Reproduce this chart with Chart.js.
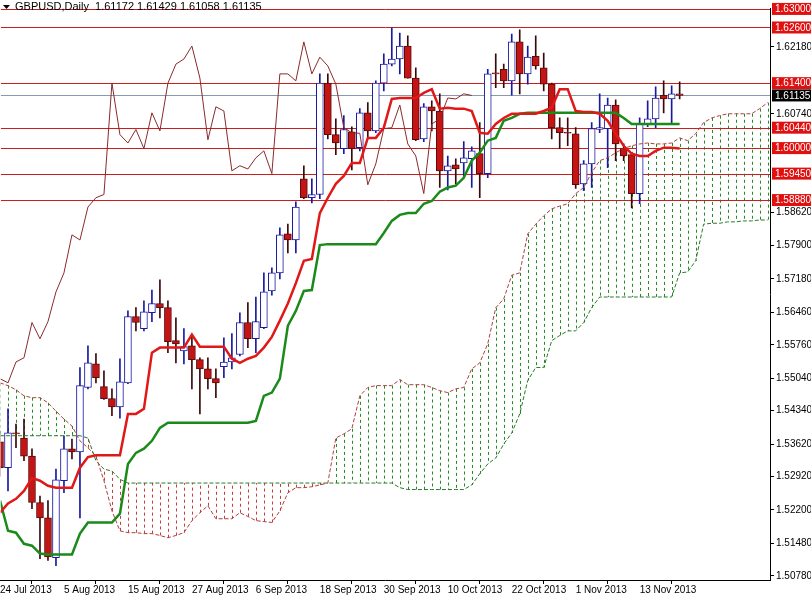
<!DOCTYPE html>
<html><head><meta charset="utf-8">
<script src="https://cdn.jsdelivr.net/npm/chart.js@4.4.1/dist/chart.umd.min.js"></script>
<style>html,body{margin:0;padding:0;background:#fff}#w{width:811px;height:596px}</style>
</head><body><div id="w"><canvas id="c"></canvas></div>
<script>
const openP=[1.5367,1.5311,1.5386,1.5375,1.5336,1.5236,1.5203,1.5117,1.5283,1.5352,1.5345,1.5484,1.5535,1.5486,1.5460,1.5442,1.5494,1.5637,1.5611,1.5645,1.5665,1.5656,1.5585,1.5563,1.5574,1.5544,1.5524,1.5503,1.5529,1.5539,1.5555,1.5624,1.5589,1.5613,1.5692,1.5731,1.5815,1.5802,1.5934,1.5893,1.5900,1.6140,1.6029,1.5999,1.6035,1.6001,1.6076,1.6037,1.6140,1.6181,1.6192,1.6220,1.6151,1.6020,1.6089,1.6080,1.5951,1.5964,1.5968,1.5977,1.5988,1.5945,1.6162,1.6170,1.6145,1.6229,1.6160,1.6198,1.6173,1.6138,1.6044,1.6034,1.6031,1.5923,1.5966,1.6040,1.6042,1.6093,1.5999,1.5986,1.5902,1.6052,1.6063,1.6114,1.6106,1.61172];
const highP=[1.5390,1.5438,1.5405,1.5416,1.5352,1.5250,1.5240,1.5308,1.5380,1.5373,1.5527,1.5574,1.5557,1.5520,1.5481,1.5546,1.5649,1.5656,1.5671,1.5694,1.5716,1.5671,1.5634,1.5611,1.5596,1.5548,1.5548,1.5524,1.5591,1.5600,1.5645,1.5667,1.5679,1.5731,1.5742,1.5828,1.5836,1.5884,1.5962,1.5934,1.6160,1.6160,1.6063,1.6070,1.6046,1.6085,1.6098,1.6145,1.6203,1.6259,1.6248,1.6242,1.6173,1.6096,1.6102,1.6117,1.5983,1.5977,1.6014,1.6003,1.6055,1.6170,1.6203,1.6181,1.6246,1.6255,1.6220,1.6242,1.6205,1.6140,1.6065,1.6065,1.6044,1.5973,1.6055,1.6117,1.6108,1.6104,1.6009,1.5988,1.6065,1.6102,1.6132,1.6145,1.6134,1.61429];
const lowP=[1.5293,1.5261,1.5354,1.5326,1.5223,1.5115,1.5111,1.5100,1.5257,1.5330,1.5203,1.5481,1.5494,1.5458,1.5423,1.5418,1.5492,1.5606,1.5606,1.5626,1.5634,1.5559,1.5537,1.5535,1.5481,1.5427,1.5481,1.5462,1.5505,1.5524,1.5552,1.5570,1.5559,1.5611,1.5683,1.5718,1.5774,1.5774,1.5891,1.5882,1.5891,1.6020,1.5986,1.5988,1.5953,1.5994,1.6022,1.6033,1.6123,1.6177,1.6160,1.6151,1.6016,1.6014,1.6037,1.5915,1.5910,1.5923,1.5936,1.5915,1.5893,1.5936,1.6130,1.6130,1.6114,1.6117,1.6138,1.6170,1.6123,1.6020,1.5999,1.6005,1.5913,1.5908,1.5915,1.6033,1.5958,1.5973,1.5973,1.5871,1.5880,1.6046,1.6044,1.6076,1.6052,1.61058];
const closeP=[1.5311,1.5386,1.5384,1.5336,1.5236,1.5203,1.5119,1.5285,1.5352,1.5345,1.5488,1.5537,1.5505,1.5460,1.5442,1.5496,1.5637,1.5624,1.5647,1.5665,1.5656,1.5583,1.5578,1.5572,1.5544,1.5524,1.5503,1.5494,1.5539,1.5548,1.5624,1.5589,1.5626,1.5690,1.5731,1.5813,1.5802,1.5873,1.5893,1.5900,1.6140,1.6029,1.6011,1.6040,1.5999,1.6076,1.6037,1.6140,1.6181,1.6192,1.6220,1.6151,1.6018,1.6089,1.6080,1.5951,1.5962,1.5955,1.5979,1.5994,1.5945,1.6160,1.6160,1.6145,1.6229,1.6160,1.6196,1.6177,1.6138,1.6044,1.6033,1.6032,1.5921,1.5966,1.6042,1.6044,1.6093,1.6009,1.5983,1.5902,1.6052,1.6063,1.6108,1.6106,1.6117,1.61135];
const tenkan=[1.5214,1.5234,1.5244,1.5261,1.5289,1.5283,1.5272,1.5268,1.5268,1.5268,1.5311,1.5334,1.5338,1.5338,1.5338,1.5338,1.5427,1.5427,1.5438,1.5559,1.5570,1.5570,1.5570,1.5570,1.5598,1.5572,1.5572,1.5572,1.5572,1.5546,1.5537,1.5546,1.5552,1.5570,1.5593,1.5628,1.5665,1.5709,1.5757,1.5761,1.5860,1.5893,1.5923,1.5940,1.5968,1.5968,1.6022,1.6022,1.6044,1.6106,1.6108,1.6108,1.6108,1.6119,1.6127,1.6085,1.6087,1.6085,1.6085,1.6080,1.6033,1.6031,1.6052,1.6065,1.6074,1.6074,1.6074,1.6074,1.6080,1.6087,1.6127,1.6127,1.6080,1.6078,1.6078,1.6074,1.6059,1.6031,1.6005,1.5988,1.5983,1.5983,1.5994,1.6001,1.6001,1.5999];
const kijun=[1.5240,1.5175,1.5171,1.5147,1.5143,1.5126,1.5124,1.5124,1.5124,1.5124,1.5169,1.5193,1.5193,1.5193,1.5193,1.5212,1.5319,1.5343,1.5352,1.5369,1.5397,1.5408,1.5408,1.5408,1.5408,1.5408,1.5408,1.5408,1.5408,1.5408,1.5408,1.5408,1.5412,1.5466,1.5473,1.5503,1.5617,1.5649,1.5692,1.5694,1.5791,1.5793,1.5793,1.5793,1.5793,1.5793,1.5793,1.5793,1.5817,1.5843,1.5856,1.5860,1.5860,1.5880,1.5886,1.5906,1.5915,1.5919,1.5936,1.5973,1.5990,1.6016,1.6022,1.6059,1.6065,1.6074,1.6076,1.6076,1.6076,1.6076,1.6076,1.6076,1.6076,1.6076,1.6076,1.6076,1.6076,1.6076,1.6065,1.6052,1.6052,1.6052,1.6052,1.6052,1.6052,1.6052];
const spanA=[1.5494,1.5488,1.5479,1.5466,1.5462,1.5462,1.5451,1.5433,1.5416,1.5401,1.5369,1.5354,1.5336,1.5283,1.5218,1.5175,1.5171,1.5171,1.5169,1.5169,1.5165,1.5160,1.5165,1.5171,1.5197,1.5214,1.5229,1.5201,1.5201,1.5201,1.5214,1.5206,1.5197,1.5195,1.5193,1.5218,1.5257,1.5268,1.5268,1.5270,1.5274,1.5278,1.5375,1.5384,1.5395,1.5466,1.5484,1.5488,1.5488,1.5488,1.5501,1.5490,1.5490,1.5490,1.5484,1.5477,1.5473,1.5481,1.5484,1.5524,1.5537,1.5578,1.5656,1.5675,1.5726,1.5731,1.5815,1.5836,1.5854,1.5869,1.5875,1.5880,1.5902,1.5915,1.5947,1.5973,1.5979,1.5990,1.5999,1.6005,1.6009,1.6011,1.6009,1.6009,1.6011,1.6022,1.6016,1.6031,1.6055,1.6065,1.6070,1.6074,1.6074,1.6074,1.6074,1.6085,1.6098];
const spanB=[1.5380,1.5380,1.5380,1.5380,1.5380,1.5380,1.5380,1.5380,1.5380,1.5380,1.5380,1.5375,1.5326,1.5308,1.5304,1.5286,1.5278,1.5278,1.5278,1.5278,1.5278,1.5278,1.5278,1.5278,1.5278,1.5278,1.5278,1.5278,1.5278,1.5278,1.5278,1.5278,1.5278,1.5278,1.5278,1.5278,1.5278,1.5278,1.5278,1.5278,1.5278,1.5278,1.5278,1.5278,1.5278,1.5278,1.5278,1.5278,1.5278,1.5278,1.5268,1.5264,1.5264,1.5264,1.5264,1.5264,1.5264,1.5264,1.5264,1.5274,1.5298,1.5319,1.5332,1.5362,1.5386,1.5427,1.5499,1.5527,1.5527,1.5585,1.5596,1.5606,1.5606,1.5624,1.5656,1.5679,1.5679,1.5679,1.5679,1.5679,1.5679,1.5679,1.5679,1.5679,1.5679,1.5731,1.5733,1.5757,1.5836,1.5838,1.5838,1.5841,1.5841,1.5843,1.5843,1.5845,1.5845];
const chikouShift=26;
const levels=[1.6300,1.6260,1.6140,1.6044,1.6000,1.5945,1.5888];
const lastPrice=1.61135;
const yTicks=[1.6218,1.6074,1.5862,1.5790,1.5718,1.5646,1.5576,1.5504,1.5434,1.5362,1.5292,1.5220,1.5148,1.5078];
const xLabelIdx=[0,8,16,24,32,40,48,56,64,72,80];
const xLabels=['24 Jul 2013','5 Aug 2013','15 Aug 2013','27 Aug 2013','6 Sep 2013','18 Sep 2013','30 Sep 2013','10 Oct 2013','22 Oct 2013','1 Nov 2013','13 Nov 2013'];
const title='GBPUSD,Daily  1.61172 1.61429 1.61058 1.61135';

const up=closeP.map((c,i)=>c>=openP[i]);
const pts=a=>a.map((v,i)=>({x:i,y:v}));
const chikou=closeP.slice(chikouShift).map((v,i)=>({x:i,y:v}));

const cloud={id:'cloud',beforeDatasetsDraw(ch){
  const x=ch.scales.x,y=ch.scales.y,ctx=ch.ctx,a=ch.chartArea;
  ctx.save();ctx.beginPath();ctx.rect(a.left,a.top,a.right-a.left,a.bottom-a.top);ctx.clip();
  ctx.lineWidth=1;ctx.setLineDash([3,3]);
  for(let i=0;i<spanA.length;i++){
    const px=Math.round(x.getPixelForValue(i))+0.5;
    ctx.strokeStyle=spanA[i]>=spanB[i]?'#228B22':'#c83c3c';
    ctx.beginPath();ctx.moveTo(px,y.getPixelForValue(spanA[i]));ctx.lineTo(px,y.getPixelForValue(spanB[i]));ctx.stroke();
  }
  ctx.setLineDash([]);
  ctx.lineWidth=1;
  levels.forEach(l=>{const py=Math.round(y.getPixelForValue(l))+0.5;ctx.strokeStyle='#c81e1e';ctx.beginPath();ctx.moveTo(a.left,py);ctx.lineTo(a.right,py);ctx.stroke();});
  const pl=Math.round(y.getPixelForValue(lastPrice))+0.5;ctx.strokeStyle='#8a9aaa';ctx.beginPath();ctx.moveTo(a.left,pl);ctx.lineTo(a.right,pl);ctx.stroke();
  ctx.restore();
},afterDraw(ch){
  const y=ch.scales.y,ctx=ch.ctx,a=ch.chartArea;
  ctx.save();ctx.font='10px "Liberation Sans"';ctx.textBaseline='middle';
  const box=(v,bg)=>{const py=y.getPixelForValue(v);ctx.fillStyle=bg;ctx.fillRect(a.right+2,py-6,39,12);ctx.fillStyle='#fff';ctx.fillText(v.toFixed(5),a.right+5,py+0.5);};
  levels.forEach(l=>box(l,'#e01010'));box(lastPrice,'#000');
  ctx.fillStyle='#000';
  ctx.beginPath();ctx.moveTo(3,5);ctx.lineTo(10,5);ctx.lineTo(6.5,9);ctx.closePath();ctx.fill();
  ctx.font='11px "Liberation Sans"';ctx.textBaseline='middle';ctx.fillText(title,15,7);
  ctx.restore();
}};

new Chart(document.getElementById('c'),{
  data:{datasets:[
    {type:'line',data:pts(tenkan),borderColor:'#e01818',borderWidth:2.5,pointRadius:0,order:1},
    {type:'line',data:pts(kijun),borderColor:'#1a8a1a',borderWidth:2.5,pointRadius:0,order:1},
    {type:'line',data:chikou,borderColor:'#8b2a2a',borderWidth:1,pointRadius:0,order:1},
    {type:'line',data:pts(spanA),borderColor:'#b04040',borderWidth:1,pointRadius:0,order:1,borderDash:[4,2]},
    {type:'line',data:pts(spanB),borderColor:'#2a7a2a',borderWidth:1,pointRadius:0,order:1,borderDash:[4,2]},
    {type:'bar',data:openP.map((o,i)=>({x:i,y:[o,closeP[i]]})),grouped:false,barThickness:7,borderWidth:1,borderSkipped:false,
      backgroundColor:up.map(u=>u?'#ffffff':'#c41414'),borderColor:up.map(u=>u?'#1a1aa0':'#5a0a0a'),order:2},
    {type:'bar',data:lowP.map((l,i)=>({x:i,y:[l,highP[i]]})),grouped:false,barThickness:1,borderWidth:0,
      backgroundColor:up.map(u=>u?'#1a1aa0':'#3a0a0a'),order:3}
  ]},
  options:{responsive:true,maintainAspectRatio:false,animation:false,
    layout:{padding:{left:0,right:0,top:0,bottom:0}},
    plugins:{legend:{display:false},tooltip:{enabled:false}},
    scales:{
      x:{type:'linear',min:0.09,max:96.3,offset:false,
        grid:{display:true,drawOnChartArea:false,tickLength:4,color:'#000'},border:{color:'#000'},
        afterBuildTicks(s){s.ticks=xLabelIdx.map(v=>({value:v}));},
        afterFit(s){s.height=16;},
        ticks:{autoSkip:false,maxRotation:0,align:'start',padding:0,color:'#000',font:{family:'Liberation Sans',size:10},
          callback:v=>{const k=xLabelIdx.indexOf(v);return k>=0?xLabels[k]:'';}}},
      y:{type:'linear',position:'right',min:1.5069,max:1.6302,
        grid:{display:true,drawOnChartArea:false,tickLength:4,color:'#000'},border:{color:'#000'},
        afterBuildTicks(s){s.ticks=yTicks.map(v=>({value:v}));},
        afterFit(s){s.width=41;},
        ticks:{autoSkip:false,padding:2,color:'#000',font:{family:'Liberation Sans',size:10},callback:v=>v.toFixed(5)}}
    }},
  plugins:[cloud]
});
</script></body></html>
